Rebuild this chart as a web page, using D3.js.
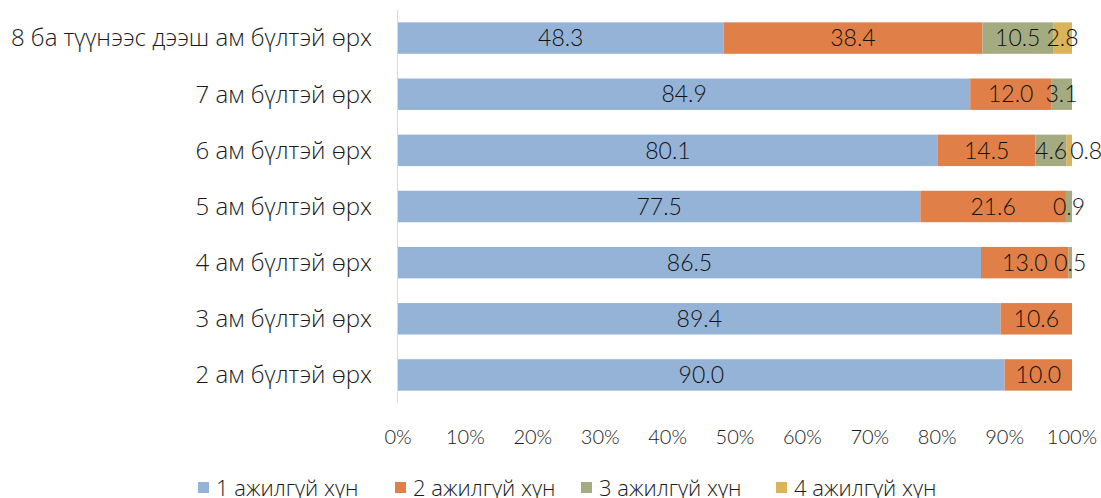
<!DOCTYPE html>
<html>
<head>
<meta charset="utf-8">
<script src="https://cdn.jsdelivr.net/npm/d3@7/dist/d3.min.js"></script>
<style>
  body { margin: 0; background: #fff; }
  #chart svg { display: block; }
</style>
</head>
<body>
<div id="chart"></div>
<script>
(function () {

  var categories = [
    "8 ба түүнээс дээш ам бүлтэй өрх",
    "7 ам бүлтэй өрх",
    "6 ам бүлтэй өрх",
    "5 ам бүлтэй өрх",
    "4 ам бүлтэй өрх",
    "3 ам бүлтэй өрх",
    "2 ам бүлтэй өрх"
  ]

  var seriesNames = ["1 ажилгүй хүн", "2 ажилгүй хүн", "3 ажилгүй хүн", "4 ажилгүй хүн"]

  var one   = [48.3, 84.9, 80.1, 77.5, 86.5, 89.4, 90.0]
  var two   = [38.4, 12.0, 14.5, 21.6, 13.0, 10.6, 10.0]
  var three = [10.5,  3.1,  4.6,  0.9,  0.5,  0,    0]
  var four  = [ 2.8,  0,    0.8,  0,    0,    0,    0]

  var tickValues = [0, 10, 20, 30, 40, 50, 60, 70, 80, 90, 100]

  var colors = ["#95b3d7", "#e07f47", "#a4ab80", "#dab35b"]

  var margin = { top: 10, right: 29, bottom: 95, left: 398 }
  var width = 1101 - margin.left - margin.right,
      height = 498 - margin.top - margin.bottom

  var svg = d3.select("#chart").append("svg")
      .attr("width", 1101)
      .attr("height", 498)
      .append("g")
      .attr("transform", "translate(" + margin.left + "," + margin.top + ")")

  var rows = categories.map(function(c, i) {
    return { cat: c, s0: one[i], s1: two[i], s2: three[i], s3: four[i] }
  })

  var stack = d3.stack().keys(["s0", "s1", "s2", "s3"])
  var layers = stack(rows)

  var x = d3.scaleLinear().domain([0, 100]).range([0, width])
  var y = d3.scaleBand().domain(categories).range([0, height]).paddingInner(0.44).paddingOuter(0.22)

  // bars
  var layer = svg.selectAll(".layer")
    .data(layers)
    .enter().append("g")
    .attr("class", "layer")
    .attr("fill", function(d, i) { return colors[i] })

  layer.selectAll("rect")
    .data(function(d) { return d.filter(function(p) { return p[1] - p[0] > 0 }) })
    .enter().append("rect")
    .attr("x", function(d) { return x(d[0]) })
    .attr("y", function(d) { return y(d.data.cat) })
    .attr("width", function(d) { return x(d[1]) - x(d[0]) })
    .attr("height", y.bandwidth())

  // data labels (drawn after all bars so they sit on top)
  var labels = svg.append("g").attr("class", "labels")
  layers.forEach(function(l, li) {
    labels.selectAll(".lbl-" + li)
      .data(l.filter(function(p) { return p[1] - p[0] > 0 }))
      .enter().append("text")
      .attr("class", "lbl lbl-" + li)
      .attr("x", function(d) { return x((d[0] + d[1]) / 2) })
      .attr("y", function(d) { return y(d.data.cat) + y.bandwidth() / 2 })
      .attr("dy", "0.36em")
      .attr("text-anchor", "middle")
      .attr("fill", "#111")
      .style("font-family", "Lato, 'DejaVu Sans Condensed', sans-serif")
      .style("font-weight", 300)
      .style("font-size", "23px")
      .text(function(d) { return (d[1] - d[0]).toFixed(1) })
  })

  // push a label right when it runs into the one before it in the same row
  categories.forEach(function(c) {
    var prevRight = -Infinity
    labels.selectAll(".lbl")
      .filter(function(d) { return d.data.cat === c })
      .each(function() {
        var b = this.getBBox()
        if (b.x < prevRight + 3) {
          var shift = prevRight + 3 - b.x
          d3.select(this).attr("x", +d3.select(this).attr("x") + shift)
          b = this.getBBox()
        }
        prevRight = b.x + b.width
      })
  })

  // vertical axis line
  svg.append("line")
    .attr("x1", -0.5).attr("x2", -0.5)
    .attr("y1", 0).attr("y2", height)
    .attr("stroke", "#d9d9d9")
    .attr("stroke-width", 1)

  // category labels
  svg.selectAll(".cat-label")
    .data(categories)
    .enter().append("text")
    .attr("class", "cat-label")
    .attr("x", -26)
    .attr("y", function(d) { return y(d) + y.bandwidth() / 2 })
    .attr("dy", "0.35em")
    .attr("text-anchor", "end")
    .attr("fill", "#1a1a1a")
    .style("font-family", "'Open Sans', sans-serif")
    .style("font-weight", 300)
    .style("font-size", "24px")
    .text(function(d) { return d })

  // x tick labels
  svg.selectAll(".tick-label")
    .data(tickValues)
    .enter().append("text")
    .attr("class", "tick-label")
    .attr("x", function(d) { return x(d) })
    .attr("y", height + 34)
    .attr("dy", "0.35em")
    .attr("text-anchor", "middle")
    .attr("fill", "#1a1a1a")
    .style("font-family", "Lato, sans-serif")
    .style("font-weight", 300)
    .style("font-size", "20px")
    .text(function(d) { return d + "%" })

  // legend
  var legendX = [198, 395, 581, 776]
  var legend = d3.select("svg").selectAll(".legend")
    .data(seriesNames)
    .enter().append("g")
    .attr("class", "legend")
    .attr("transform", function(d, i) { return "translate(" + legendX[i] + ",488)" })

  legend.append("rect")
    .attr("x", 0).attr("y", -6)
    .attr("width", 11).attr("height", 11)
    .attr("fill", function(d, i) { return colors[i] })

  legend.append("text")
    .attr("x", 18)
    .attr("y", 0)
    .attr("dy", "0.35em")
    .attr("fill", "#1a1a1a")
    .style("font-family", "'Open Sans', sans-serif")
    .style("font-weight", 300)
    .style("font-size", "22px")
    .text(function(d) { return d })

})()
</script>
</body>
</html>
